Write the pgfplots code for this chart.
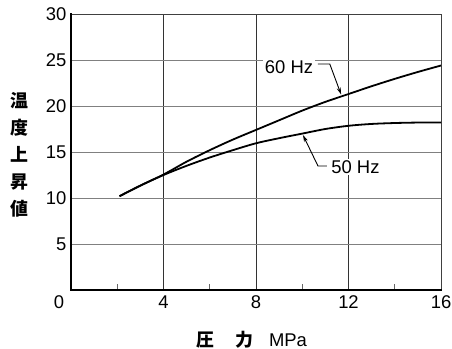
\documentclass[border=0pt]{standalone}
\usepackage{fontspec}
\setmainfont{Liberation Sans}
\newfontfamily\cjk{Noto Sans CJK JP}
\usepackage{pgfplots}
\pgfplotsset{compat=1.18}
\usetikzlibrary{arrows.meta}
\newcommand{\lblfont}{\fontsize{18.5}{21}\selectfont}
\begin{document}
\begin{tikzpicture}
\path[use as bounding box] (-71bp,-59bp) rectangle (381bp,290bp);
\begin{axis}[
  at={(0,0)}, anchor=south west,
  scale only axis, width=370bp, height=276bp,
  clip=false,
  xmin=0, xmax=16, ymin=0, ymax=30,
  xtick={4,8,12,16}, minor xtick={2,6,10,14}, ytick={5,10,...,30},
  extra x ticks={0},
  extra x tick style={xmajorgrids=false, xticklabel style={xshift=-12bp}},
  xmajorgrids, ymajorgrids,
  x grid style={black!80, line width=0.8bp},
  y grid style={black!50, line width=0.9bp},
  major tick length=0pt, minor tick length=6bp,
  xtick pos=bottom, ytick pos=left, tick align=inside,
  minor tick style={black!60, line width=0.9bp},
  axis line style={black!75, line width=0.8bp},
  tick label style={font=\lblfont},
  xticklabel style={yshift=-2bp},
  yticklabel style={xshift=-1bp},
  /pgf/number format/assume math mode=true,
]
\addplot[black, line width=1.8bp, smooth] coordinates {
  (2.1,10.2) (3,11.35) (4,12.55) (5,13.95) (6,15.2) (7,16.35) (8,17.4)
  (9,18.45) (10,19.5) (11,20.45) (12,21.3) (13,22.15) (14,22.95) (15,23.7) (16,24.4)};
\addplot[black, line width=1.8bp, smooth] coordinates {
  (2.1,10.2) (3,11.35) (4,12.5) (5,13.5) (6,14.4) (7,15.2) (8,15.95)
  (9,16.5) (10,17.0) (11,17.5) (12,17.85) (13,18.05) (14,18.15) (15,18.2) (16,18.2)};
\draw[line width=2.6bp, line cap=rect] (rel axis cs:0,1) -- (rel axis cs:0,0) -- (rel axis cs:1,0);
\node[fill=white, inner sep=1.5bp, font=\lblfont] at (axis cs:9.43,24.24) {60 Hz};
\draw[line width=0.9bp, -{Stealth[length=7bp,width=4bp]}] (axis cs:10.68,24.57) -- (axis cs:11.19,24.57) -- (axis cs:11.68,21.25);
\node[fill=white, inner sep=1.5bp, font=\lblfont] at (axis cs:12.3,13.37) {50 Hz};
\draw[line width=0.9bp, -{Stealth[length=7bp,width=4bp]}] (axis cs:11.07,13.48) -- (axis cs:10.68,13.48) -- (axis cs:10.03,16.85);
\end{axis}
\node[font=\cjk\bfseries\fontsize{18}{27.2}\selectfont, align=center, inner sep=0] at (-52bp,135.5bp) {温\\度\\上\\昇\\値};
\node[font=\cjk\bfseries\fontsize{18}{20}\selectfont, inner sep=0] at (134bp,-50bp) {圧};
\node[font=\cjk\bfseries\fontsize{18}{20}\selectfont, inner sep=0] at (173bp,-50bp) {力};
\node[font=\lblfont, inner sep=0] at (217bp,-50bp) {MPa};
\end{tikzpicture}
\end{document}
